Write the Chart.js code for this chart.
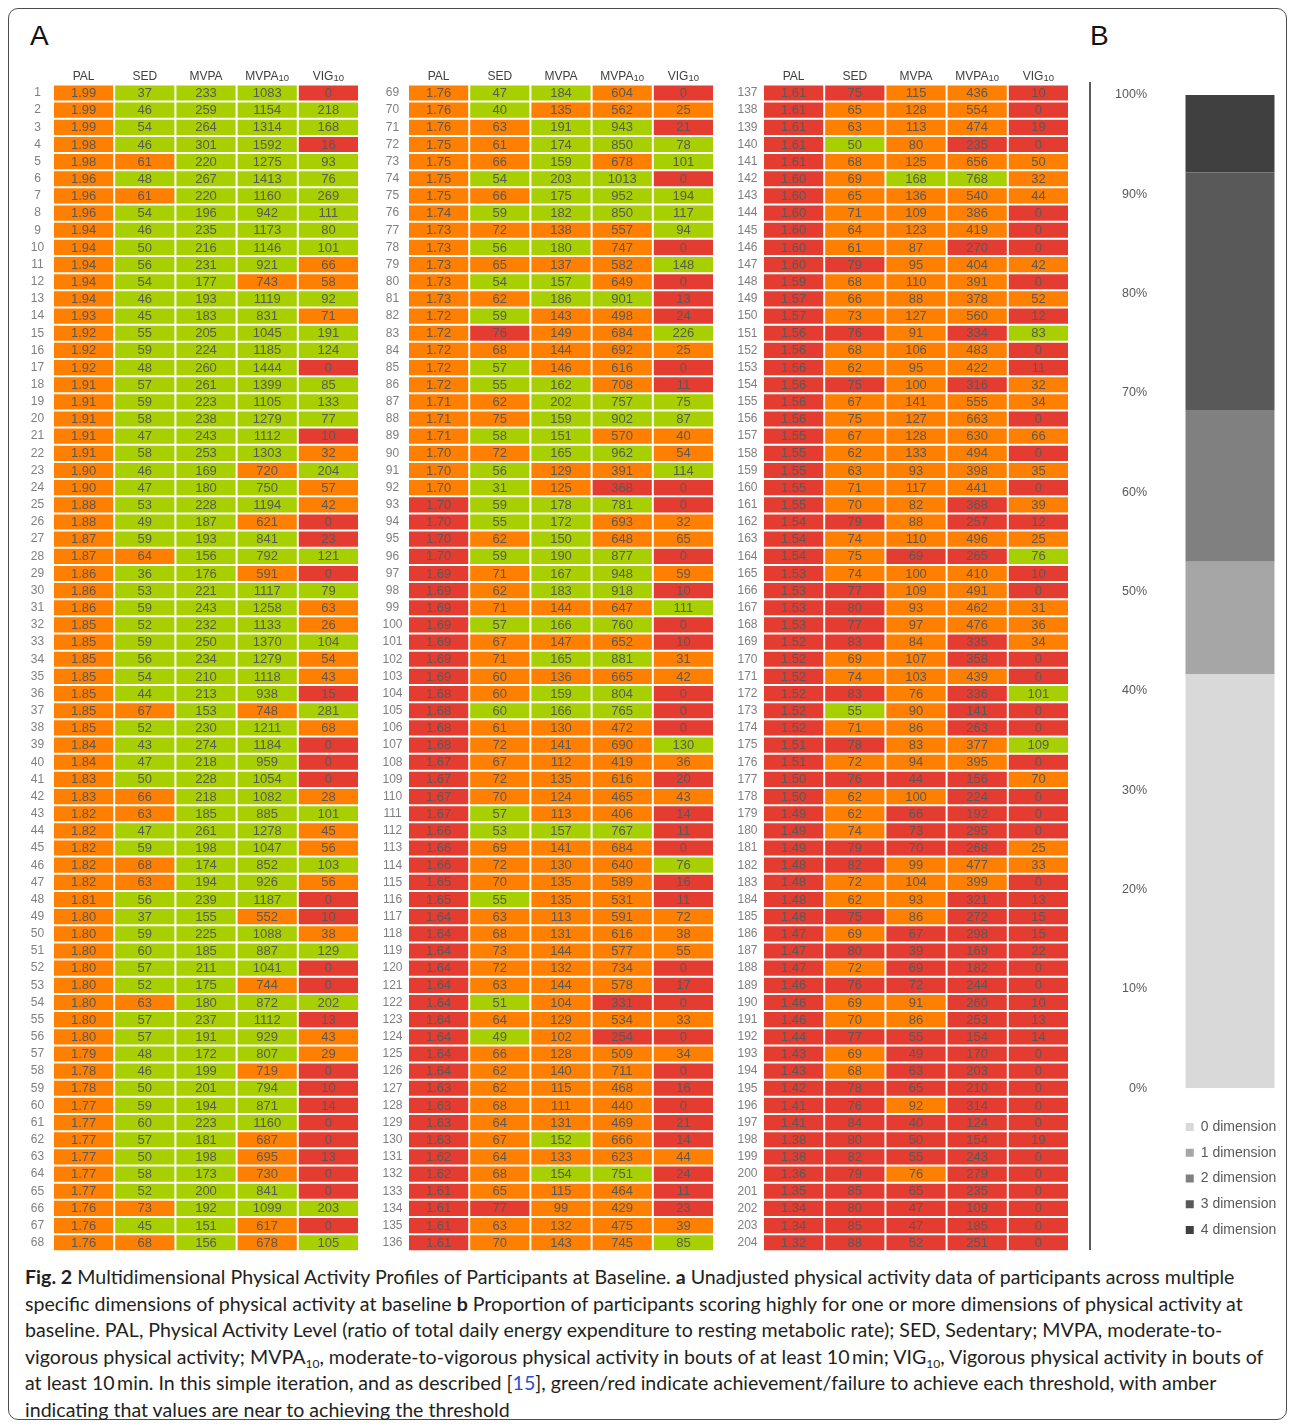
<!DOCTYPE html>
<html>
<head>
<meta charset="utf-8">
<script src="https://cdn.jsdelivr.net/npm/chart.js@4.4.1/dist/chart.umd.min.js"></script>
<style>
html,body{margin:0;padding:0;background:#fff;}
#fig{position:relative;width:1295px;height:1428px;overflow:hidden;font-family:'Liberation Sans',Arial,sans-serif;}
.frame{position:absolute;left:8px;top:8px;width:1279px;height:1412px;border:1px solid #4d4d4d;border-radius:10px;box-sizing:border-box;}
.panelLetter{position:absolute;font-size:28px;line-height:28px;color:#111;font-family:'Liberation Sans',Arial,sans-serif;}
canvas{position:absolute;}
.caption{position:absolute;left:25px;top:1264px;font-family:Lato,'Liberation Sans',sans-serif;font-size:19.6px;line-height:26.6px;color:#231f20;white-space:nowrap;}
.caption b{font-weight:700;}
.caption sub{font-size:12px;line-height:0;vertical-align:-4px;}
.caption .ref{color:#2b4fd0;}
</style>
</head>
<body>
<div id="fig">
  <div class="frame"></div>
  <div class="panelLetter" style="left:30px;top:22px;">A</div>
  <div class="panelLetter" style="left:1090px;top:22px;">B</div>
  <canvas id="p0" width="346" height="1193" style="left:13px;top:60px;"></canvas>
  <canvas id="p1" width="346" height="1193" style="left:368px;top:60px;"></canvas>
  <canvas id="p2" width="346" height="1193" style="left:723px;top:60px;"></canvas>
  <canvas id="pb" width="203" height="1190" style="left:1085px;top:60px;"></canvas>
  <div class="caption">
    <b>Fig. 2</b> Multidimensional Physical Activity Profiles of Participants at Baseline. <b>a</b> Unadjusted physical activity data of participants across multiple<br>
    specific dimensions of physical activity at baseline <b>b</b> Proportion of participants scoring highly for one or more dimensions of physical activity at<br>
    baseline. PAL, Physical Activity Level (ratio of total daily energy expenditure to resting metabolic rate); SED, Sedentary; MVPA, moderate-to-<br>
    vigorous physical activity; MVPA<sub>10</sub>, moderate-to-vigorous physical activity in bouts of at least 10&#8201;min; VIG<sub>10</sub>, Vigorous physical activity in bouts of<br>
    at least 10&#8201;min. In this simple iteration, and as described [<span class="ref">15</span>], green/red indicate achievement/failure to achieve each threshold, with amber<br>
    indicating that values are near to achieving the threshold
  </div>
</div>
<script>
// ---------------- DATA ----------------
const headerMain = ['PAL', 'SED', 'MVPA', 'MVPA', 'VIG'];
const headerSub  = ['', '', '', '10', '10'];

const pal = [
 1.99,1.99,1.99,1.98,1.98,1.96,1.96,1.96,1.94,1.94,
 1.94,1.94,1.94,1.93,1.92,1.92,1.92,1.91,1.91,1.91,
 1.91,1.91,1.90,1.90,1.88,1.88,1.87,1.87,1.86,1.86,
 1.86,1.85,1.85,1.85,1.85,1.85,1.85,1.85,1.84,1.84,
 1.83,1.83,1.82,1.82,1.82,1.82,1.82,1.81,1.80,1.80,
 1.80,1.80,1.80,1.80,1.80,1.80,1.79,1.78,1.78,1.77,
 1.77,1.77,1.77,1.77,1.77,1.76,1.76,1.76,
 1.76,1.76,1.76,1.75,1.75,1.75,1.75,1.74,1.73,1.73,
 1.73,1.73,1.73,1.72,1.72,1.72,1.72,1.72,1.71,1.71,
 1.71,1.70,1.70,1.70,1.70,1.70,1.70,1.70,1.69,1.69,
 1.69,1.69,1.69,1.69,1.69,1.68,1.68,1.68,1.68,1.67,
 1.67,1.67,1.67,1.66,1.66,1.66,1.65,1.65,1.64,1.64,
 1.64,1.64,1.64,1.64,1.64,1.64,1.64,1.64,1.63,1.63,
 1.63,1.63,1.62,1.62,1.61,1.61,1.61,1.61,
 1.61,1.61,1.61,1.61,1.61,1.60,1.60,1.60,1.60,1.60,
 1.60,1.59,1.57,1.57,1.56,1.56,1.56,1.56,1.56,1.56,
 1.55,1.55,1.55,1.55,1.55,1.54,1.54,1.54,1.53,1.53,
 1.53,1.53,1.52,1.52,1.52,1.52,1.52,1.52,1.51,1.51,
 1.50,1.50,1.49,1.49,1.49,1.48,1.48,1.48,1.48,1.47,
 1.47,1.47,1.46,1.46,1.46,1.44,1.43,1.43,1.42,1.41,
 1.41,1.38,1.38,1.36,1.35,1.34,1.34,1.32
];

const sed = [
 37,46,54,46,61,48,61,54,46,50, 56,54,46,45,55,59,48,57,59,58,
 47,58,46,47,53,49,59,64,36,53, 59,52,59,56,54,44,67,52,43,47,
 50,66,63,47,59,68,63,56,37,59, 60,57,52,63,57,57,48,46,50,59,
 60,57,50,58,52,73,45,68,
 47,40,63,61,66,54,66,59,72,56, 65,54,62,59,76,68,57,55,62,75,
 58,72,56,31,59,55,62,59,71,62, 71,57,67,71,60,60,60,61,72,67,
 72,70,57,53,69,72,70,55,63,68, 73,72,63,51,64,49,66,62,62,68,
 64,67,64,68,65,77,63,70,
 75,65,63,50,68,69,65,71,64,61, 79,68,66,73,76,68,62,75,67,75,
 67,62,63,71,70,79,74,75,74,77, 80,77,83,69,74,83,55,71,78,72,
 76,62,62,74,79,82,72,62,75,69, 80,72,76,69,70,77,69,68,78,76,
 84,80,82,79,85,80,85,88
];

const mvpa = [
 233,259,264,301,220,267,220,196,235,216, 231,177,193,183,205,224,260,261,223,238,
 243,253,169,180,228,187,193,156,176,221, 243,232,250,234,210,213,153,230,274,218,
 228,218,185,261,198,174,194,239,155,225, 185,211,175,180,237,191,172,199,201,194,
 223,181,198,173,200,192,151,156,
 184,135,191,174,159,203,175,182,138,180, 137,157,186,143,149,144,146,162,202,159,
 151,165,129,125,178,172,150,190,167,183, 144,166,147,165,136,159,166,130,141,112,
 135,124,113,157,141,130,135,135,113,131, 144,132,144,104,129,102,128,140,115,111,
 131,152,133,154,115,99,132,143,
 115,128,113,80,125,168,136,109,123,87, 95,110,88,127,91,106,95,100,141,127,
 128,133,93,117,82,88,110,69,100,109, 93,97,84,107,103,76,90,86,83,94,
 44,100,66,73,70,99,104,93,86,67, 39,69,72,91,86,55,49,63,65,92,
 40,50,55,76,65,47,47,52
];

const mvpa10 = [
 1083,1154,1314,1592,1275,1413,1160,942,1173,1146, 921,743,1119,831,1045,1185,1444,1399,1105,1279,
 1112,1303,720,750,1194,621,841,792,591,1117, 1258,1133,1370,1279,1118,938,748,1211,1184,959,
 1054,1082,885,1278,1047,852,926,1187,552,1088, 887,1041,744,872,1112,929,807,719,794,871,
 1160,687,695,730,841,1099,617,678,
 604,562,943,850,678,1013,952,850,557,747, 582,649,901,498,684,692,616,708,757,902,
 570,962,391,368,781,693,648,877,948,918, 647,760,652,881,665,804,765,472,690,419,
 616,465,406,767,684,640,589,531,591,616, 577,734,578,331,534,254,509,711,468,440,
 469,666,623,751,464,429,475,745,
 436,554,474,235,656,768,540,386,419,270, 404,391,378,560,334,483,422,316,555,663,
 630,494,398,441,368,257,496,265,410,491, 462,476,335,358,439,336,141,263,377,395,
 156,224,192,295,268,477,399,321,272,298, 169,182,244,260,253,154,170,203,210,314,
 124,154,243,279,235,109,185,251
];

const vig10 = [
 0,218,168,16,93,76,269,111,80,101, 66,58,92,71,191,124,0,85,133,77,
 10,32,204,57,42,0,23,121,0,79, 63,26,104,54,43,15,281,68,0,0,
 0,28,101,45,56,103,56,0,10,38, 129,0,0,202,13,43,29,0,10,14,
 0,0,13,0,0,203,0,105,
 0,25,21,78,101,0,194,117,94,0, 148,0,13,24,226,25,0,11,75,87,
 40,54,114,0,0,32,65,0,59,10, 111,0,10,31,42,0,0,0,130,36,
 20,43,14,11,0,76,16,11,72,38, 55,0,17,0,33,0,34,0,16,0,
 21,14,44,24,11,23,39,85,
 10,0,19,0,50,32,44,0,0,0, 42,0,52,12,83,0,11,32,34,0,
 66,0,35,0,39,12,25,76,10,0, 31,36,34,0,0,101,0,0,109,0,
 70,0,0,0,25,33,0,13,15,15, 22,0,0,10,13,14,0,0,0,0,
 0,19,0,0,0,0,0,0
];

// achievement status per participant: PAL SED MVPA MVPA10 VIG10 (G = achieved, O = near/amber, R = not achieved)
const cellStatus = [
 'OGGGR','OGGGG','OGGGG','OGGGR','OOGGG','OGGGG','OOGGG','OGGGG','OGGGG','OGGGG',
 'OGGGO','OGGOO','OGGGG','OGGGO','OGGGG','OGGGG','OGGGR','OGGGG','OGGGG','OGGGG',
 'OGGGR','OGGGO','OGGOG','OGGGO','OGGGO','OGGOR','OGGGR','OOGGG','OGGOR','OGGGG',
 'OGGGO','OGGGO','OGGGG','OGGGO','OGGGO','OGGGR','OOGOG','OGGGO','OGGGR','OGGGR',
 'OGGGR','OOGGO','OOGGG','OGGGO','OGGGO','OOGGG','OOGGO','OGGGR','OGGOR','OGGGO',
 'OGGGG','OGGGR','OGGOR','OOGGG','OGGGR','OGGGO','OGGGO','OGGOR','OGGGR','OGGGR',
 'OGGGR','OGGOR','OGGOR','OGGOR','OGGGR','OOGGG','OGGOR','OOGOG',
 'OGGOR','OGOOO','OOGGR','OOGGG','OOGOG','OGGGR','OOGGG','OGGGG','OOOOG','OGGOR',
 'OOOOG','OGGOR','OOGGR','OGOOR','OROOG','OOOOO','OGOOR','OGGOR','OOGGG','OOGGG',
 'OGGOO','OOGGO','OGOOG','OGORR','RGGGR','RGGOO','ROGOO','RGGGR','ROGGO','ROGGR',
 'ROOOG','RGGGR','ROOOR','ROGGO','ROOOO','ROGGR','RGGGR','ROOOR','ROOOG','ROOOO',
 'ROOOR','ROOOO','RGOOR','RGGGR','ROOOR','ROOOG','ROOOR','RGOOR','ROOOO','ROOOO',
 'ROOOO','ROOOR','ROOOR','RGORR','ROOOO','RGORR','ROOOO','ROOOR','ROOOR','ROOOR',
 'ROOOR','ROGOR','ROOOO','ROGGR','ROOOR','RROOR','ROOOO','ROOOG',
 'RROOR','ROOOR','ROOOR','RGORR','ROOOO','ROGGO','ROOOO','ROOOR','ROOOR','ROORR',
 'RROOO','ROOOR','ROOOO','ROOOR','RRORG','ROOOR','ROOOR','RRORO','ROOOO','ROOOR',
 'ROOOO','ROOOR','ROOOO','ROOOR','ROORO','RRORR','ROOOO','RORRG','ROOOR','RROOR',
 'RROOO','RROOO','RRORO','ROORR','ROOOR','RRORG','RGORR','ROORR','RROOG','ROOOR',
 'RRRRO','ROORR','RORRR','RORRR','RRRRO','RROOO','ROOOR','ROORR','RRORR','RORRR',
 'RRRRR','RORRR','RRRRR','ROORR','ROORR','RRRRR','RORRR','RORRR','RRRRR','RRORR',
 'RRRRR','RRRRR','RRRRR','RRORR','RRRRR','RRRRR','RRRRR','RRRRR'
];

// Panel B: proportion of participants scoring highly (%)
const dimLabels = ['0 dimension', '1 dimension', '2 dimension', '3 dimension', '4 dimension'];
const dimPct = [41.7, 11.3, 15.2, 24.0, 7.8];

// ---------------- STYLE ----------------
const FONT = "'Liberation Sans', Arial, sans-serif";
Chart.defaults.font.family = FONT;
const statusColor = { G: '#a8d000', O: '#ff7f00', R: '#e43c30' };
const grays = ['#d9d9d9', '#a6a6a6', '#808080', '#595959', '#404040'];
const colValues = [pal, sed, mvpa, mvpa10, vig10];
const rowsPerPanel = 68;
const rowIds = pal.map((_, i) => String(i + 1));

const cellPlugin = {
  id: 'cellPlugin',
  afterDatasetsDraw(chart) {
    const ctx = chart.ctx;
    ctx.save();
    ctx.font = '13px ' + FONT;
    ctx.fillStyle = '#595959';
    ctx.textAlign = 'center';
    ctx.textBaseline = 'middle';
    chart.data.datasets.forEach((ds, di) => {
      const meta = chart.getDatasetMeta(di);
      meta.data.forEach((el, i) => {
        const pr = el.getProps(['x', 'y', 'base'], true);
        ctx.fillText(ds.cellText[i], (pr.x + pr.base) / 2, pr.y + 0.5);
      });
    });
    // column headers
    const xs = chart.scales.x;
    const yb = chart.chartArea.top - 4.3;
    ctx.textBaseline = 'alphabetic';
    ctx.textAlign = 'left';
    ctx.fillStyle = '#404040';
    for (let c = 0; c < headerMain.length; c++) {
      const cx = xs.getPixelForValue(c + 0.5);
      ctx.font = '12px ' + FONT;
      const w1 = ctx.measureText(headerMain[c]).width;
      ctx.font = '9.5px ' + FONT;
      const w2 = headerSub[c] ? ctx.measureText(headerSub[c]).width : 0;
      const x0 = cx - (w1 + w2) / 2;
      ctx.font = '12px ' + FONT;
      ctx.fillText(headerMain[c], x0, yb);
      if (headerSub[c]) {
        ctx.font = '9.5px ' + FONT;
        ctx.fillText(headerSub[c], x0 + w1, yb + 0.5);
      }
    }
    ctx.restore();
  }
};

const measureCtx = document.createElement('canvas').getContext('2d');
measureCtx.font = '12px ' + FONT;

for (let p = 0; p < 3; p++) {
  const s = p * rowsPerPanel, e = s + rowsPerPanel;
  const labels = rowIds.slice(s, e);
  const widest = Math.max(...labels.map(l => measureCtx.measureText(l).width));
  const datasets = colValues.map((vals, c) => ({
    label: headerMain[c] + headerSub[c],
    data: vals.slice(s, e).map(() => 1),
    cellText: vals.slice(s, e).map(v => c === 0 ? v.toFixed(2) : String(v)),
    backgroundColor: cellStatus.slice(s, e).map(st => statusColor[st[c]]),
    borderColor: '#ffffff',
    borderWidth: 1,
    borderSkipped: false,
    inflateAmount: 0,
    barPercentage: 1,
    categoryPercentage: 1
  }));
  new Chart(document.getElementById('p' + p), {
    type: 'bar',
    data: { labels, datasets },
    options: {
      indexAxis: 'y',
      responsive: false,
      animation: false,
      events: [],
      layout: { padding: { top: 24.4, bottom: 1.7, left: 0, right: 0 } },
      scales: {
        x: { stacked: true, min: 0, max: 5, display: false },
        y: {
          stacked: true,
          grid: { display: false, drawTicks: false },
          border: { display: false },
          ticks: { color: '#7f7f7f', font: { size: 12 }, crossAlign: 'center', padding: 15.5 - widest / 2, autoSkip: false },
          afterFit(scale) { scale.width = 40; scale.paddingTop = 0; scale.paddingBottom = 0; }
        }
      },
      plugins: { legend: { display: false }, tooltip: { enabled: false } }
    },
    plugins: [cellPlugin]
  });
}

const sepLine = {
  id: 'sepLine',
  beforeDraw(chart) {
    const c = chart.ctx;
    c.save();
    c.strokeStyle = '#5a5a5a';
    c.lineWidth = 2;
    c.beginPath();
    c.moveTo(5, 22);
    c.lineTo(5, chart.height);
    c.stroke();
    c.restore();
  }
};

new Chart(document.getElementById('pb'), {
  type: 'bar',
  data: {
    labels: [''],
    datasets: dimLabels.map((l, i) => ({
      label: l,
      data: [dimPct[i]],
      backgroundColor: grays[i],
      borderWidth: 0,
      barPercentage: 0.767,
      categoryPercentage: 1
    }))
  },
  options: {
    responsive: false,
    animation: false,
    events: [],
    layout: { padding: { top: 35, bottom: 3, left: 0, right: 0 } },
    scales: {
      x: {
        stacked: true,
        ticks: { display: false },
        grid: { display: false, drawTicks: false },
        border: { display: false },
        afterFit(scale) { scale.height = 20; }
      },
      y: {
        stacked: true,
        min: 0,
        max: 100,
        grid: { display: false, drawTicks: false },
        border: { display: false },
        ticks: { stepSize: 10, padding: 25, color: '#595959', font: { size: 12.5 }, callback: v => v + '%' },
        afterFit(scale) { scale.width = 87; scale.paddingTop = 0; scale.paddingBottom = 0; }
      }
    },
    plugins: {
      legend: {
        position: 'bottom',
        align: 'end',
        labels: { boxWidth: 8, boxHeight: 8, padding: 11.75, color: '#595959', font: { size: 14 } }
      },
      tooltip: { enabled: false }
    }
  },
  plugins: [sepLine]
});
</script>
</body>
</html>
